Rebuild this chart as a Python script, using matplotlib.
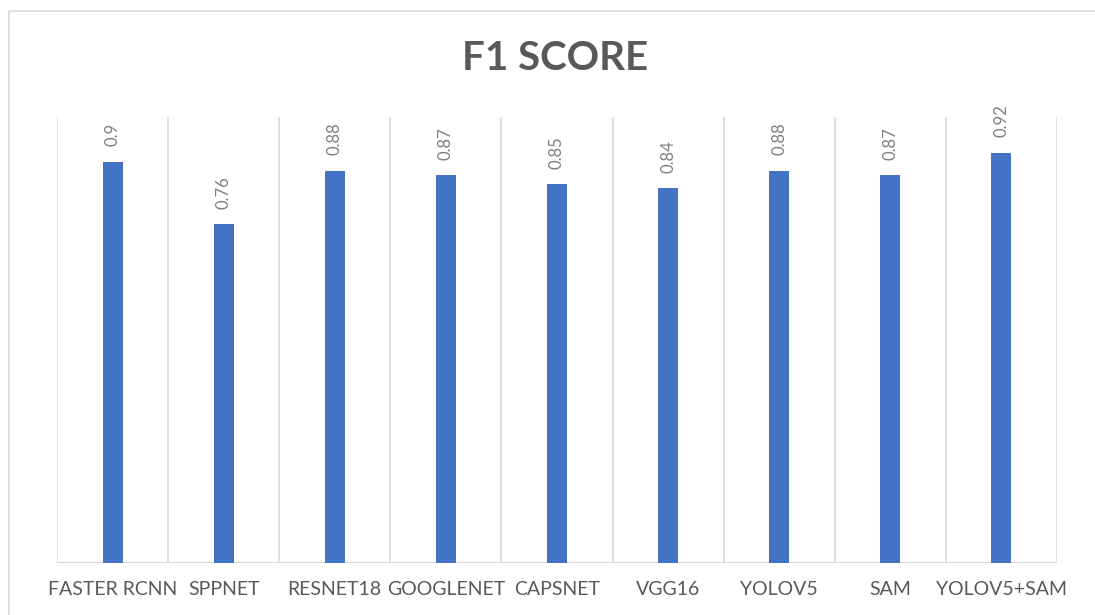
import matplotlib
matplotlib.use("Agg")
import matplotlib.pyplot as plt
from matplotlib.patches import Rectangle

# data
models = ["FASTER RCNN", "SPPNET", "RESNET18", "GOOGLENET", "CAPSNET",
          "VGG16", "YOLOV5", "SAM", "YOLOV5+SAM"]
f1_scores = [0.9, 0.76, 0.88, 0.87, 0.85, 0.84, 0.88, 0.87, 0.92]

W, H = 1095, 615
fig = plt.figure(figsize=(W / 100, H / 100), dpi=100)
ax = fig.add_axes([57 / W, 1 - 563 / H, 1000 / W, (563 - 117) / H])

# outer chart frame (only left and top edges are visible in the picture)
fig.patches.append(Rectangle((9 / W, -0.1), 1.2, 1.1 - 11 / H,
                             transform=fig.transFigure, fill=False,
                             edgecolor="#d9d9d9", linewidth=1.2))

x = list(range(len(models)))
bars = ax.bar(x, f1_scores, width=0.18, color="#4472C4", zorder=3)

# value labels, rotated like the Excel original
for rect, v in zip(bars, f1_scores):
    ax.annotate(f"{v:g}", (rect.get_x() + rect.get_width() / 2, rect.get_height()),
                xytext=(0, 11), textcoords="offset points", rotation=90,
                ha="center", va="bottom", fontsize=12, color="#7f7f7f",
                family="Lato", annotation_clip=False)

ax.set_xlim(-0.5, len(models) - 0.5)
ax.set_ylim(0, 1.0)

# vertical gridlines on category boundaries
for b in [i - 0.5 for i in range(len(models) + 1)]:
    ax.axvline(b, color="#d9d9d9", linewidth=1.2, zorder=1)
ax.axhline(0, color="#d9d9d9", linewidth=1.5, zorder=2)

for s in ax.spines.values():
    s.set_visible(False)
ax.set_yticks([])
ax.set_xticks(x)
ax.set_xticklabels(models, fontsize=14, color="#595959", family="Lato")
ax.tick_params(axis="x", length=0, pad=13)

fig.text(555 / W, 1 - 59 / H, "F1 SCORE", ha="center", va="center",
         fontsize=29, fontweight="bold", color="#595959", family="Lato")

fig.savefig("out.png", dpi=100)
